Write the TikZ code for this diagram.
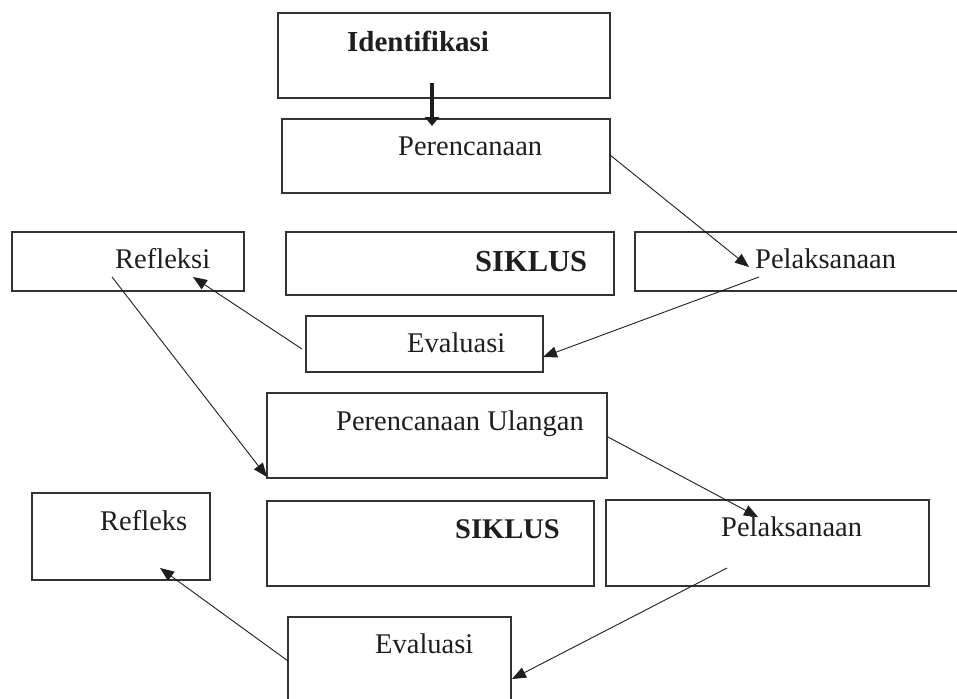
\documentclass[tikz,border=0pt]{standalone}
\usepackage{fontspec}
\setmainfont{Liberation Serif}
\usetikzlibrary{arrows.meta}
\definecolor{ink}{HTML}{1E1E1E}
\definecolor{edge}{HTML}{333333}
\begin{document}
\begin{tikzpicture}[x=1pt,y=-1pt,
  box/.style={draw=edge,line width=1.5pt,rectangle,inner sep=0pt},
  txt/.style={anchor=base west,inner sep=0pt,text=ink,font=\fontsize{28.5}{30}\selectfont},
  btxt/.style={txt,font=\fontsize{28.5}{30}\selectfont\bfseries},
  conn/.style={draw=ink,line width=0.9pt,-{Triangle[length=14pt,width=11pt]}},
  thick conn/.style={draw=ink,line width=4pt,-{Triangle[length=9pt,width=14pt]}}]
\useasboundingbox (0,0) rectangle (957,698);
\fill[white] (0,0) rectangle (957,698);
% boxes
\node[box,minimum width=332pt,minimum height=85pt] (ident) at (444,55.5) {};
\node[box,minimum width=328pt,minimum height=74pt] (peren) at (446,156) {};
\node[box,minimum width=232pt,minimum height=59pt] (refl) at (128,261.5) {};
\node[box,minimum width=328pt,minimum height=63pt] (sik1) at (450,263.5) {};
\node[box,minimum width=330pt,minimum height=59pt] (pel1) at (800,261.5) {};
\node[box,minimum width=237pt,minimum height=56pt] (eval1) at (424.5,344) {};
\node[box,minimum width=340pt,minimum height=85pt] (pu) at (437,435.5) {};
\node[box,minimum width=178pt,minimum height=87pt] (refl2) at (121,536.5) {};
\node[box,minimum width=327pt,minimum height=85pt] (sik2) at (430.5,543.5) {};
\node[box,minimum width=323pt,minimum height=86pt] (pel2) at (767.5,543) {};
\node[box,minimum width=223pt,minimum height=100pt] (eval2) at (399.5,667) {};
% texts
\node[btxt,font=\fontsize{29}{30}\selectfont\bfseries] (tident) at (347,52) {Identifikasi};
\node[txt] (tperen) at (398,155) {Perencanaan};
\node[txt] (trefl) at (115,268) {Refleksi};
\node[btxt,font=\fontsize{30.5}{32}\selectfont\bfseries] (tsik1) at (475,271) {SIKLUS};
\node[txt] (tpel1) at (755,268) {Pelaksanaan};
\node[txt] (teval1) at (407,352) {Evaluasi};
\node[txt] (tpu) at (336,430) {Perencanaan Ulangan};
\node[txt] (trefl2) at (100,530) {Refleks};
\node[btxt] (tsik2) at (455,538) {SIKLUS};
\node[txt] (tpel2) at (721,536) {Pelaksanaan};
\node[txt] (teval2) at (375,653) {Evaluasi};
% connector endpoints
\coordinate (a0) at (432,83);
\coordinate (a1) at (432,126);
\coordinate (b0) at (610,155);
\coordinate (b1) at (749,267);
\coordinate (c0) at (759,277);
\coordinate (c1) at (543,357);
\coordinate (d0) at (302,349);
\coordinate (d1) at (193,277);
\coordinate (e0) at (112,277);
\coordinate (e1) at (267,477);
\coordinate (f0) at (608,437);
\coordinate (f1) at (758,517);
\coordinate (g0) at (727,568);
\coordinate (g1) at (512,679);
\coordinate (h0) at (288,661);
\coordinate (h1) at (160,568);
% connectors
\draw[thick conn] (a0) -- (a1);
\draw[conn] (b0) -- (b1);
\draw[conn] (c0) -- (c1);
\draw[conn] (d0) -- (d1);
\draw[conn] (e0) -- (e1);
\draw[conn] (f0) -- (f1);
\draw[conn] (g0) -- (g1);
\draw[conn] (h0) -- (h1);
\end{tikzpicture}
\end{document}
